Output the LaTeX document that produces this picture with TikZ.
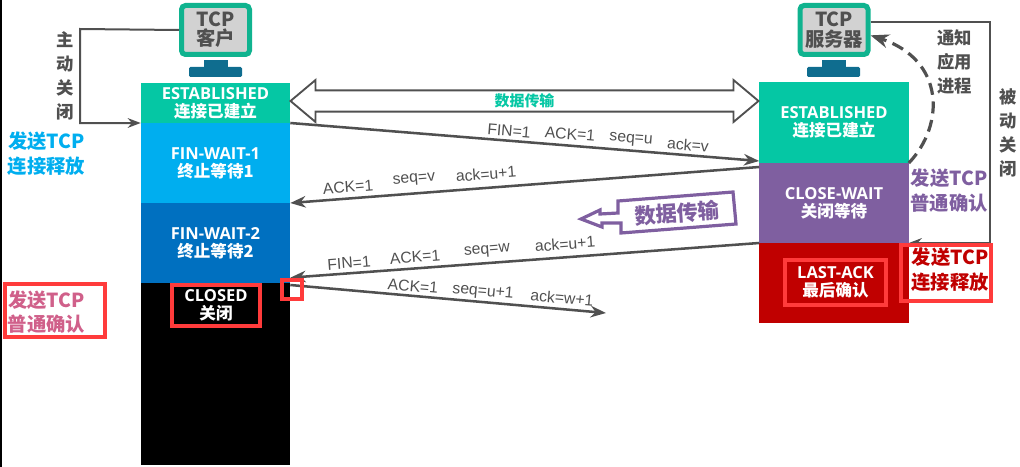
\documentclass[tikz,border=0pt]{standalone}
\usepackage{fontspec}
\usepackage{xcolor}
\usetikzlibrary{arrows.meta,shapes.arrows}
\setmainfont{Open Sans}
\newfontfamily\cn{Noto Sans CJK SC}
\newfontfamily\lab{Liberation Sans}
\definecolor{grayline}{HTML}{505050}
\definecolor{estcol}{HTML}{05C7A4}
\definecolor{waitone}{HTML}{00AEEF}
\definecolor{waittwo}{HTML}{0070C0}
\definecolor{closecol}{HTML}{7F5FA0}
\definecolor{lastcol}{HTML}{C00000}
\definecolor{boxred}{HTML}{FF3B3B}
\definecolor{pinkcol}{HTML}{D0608A}
\definecolor{framecol}{HTML}{10B38F}
\definecolor{standcol}{HTML}{0F6D8F}
\tikzset{
    >=Stealth,
    statefont/.style={font=\bfseries\fontsize{12.4}{13.5}\selectfont},
    statebox/.style={fill=#1,text=white,minimum width=112.2pt,inner sep=0pt,outer sep=0pt,align=center,statefont},
    screen/.style={draw=framecol,fill=gray!35,line width=3.75pt,rounded corners=3pt,minimum width=51pt,minimum height=36.75pt,inner sep=0pt,align=center,text=grayline,font=\cn\bfseries\fontsize{14.5}{14.5}\selectfont},
    msgline/.style={->,draw=grayline,line width=1.9pt},
    sideline/.style={draw=grayline,line width=1.5pt},
    msg/.style={text=grayline,inner sep=0pt,font=\lab\fontsize{11.8}{13}\selectfont},
    note/.style={inner sep=0pt,align=center,font=\cn\bfseries\fontsize{14.5}{18.5}\selectfont},
    vertnote/.style={text=grayline,inner sep=0pt,align=center,font=\cn\bfseries\fontsize{13}{18}\selectfont},
    redbox/.style={draw=boxred,line width=2.3pt,inner sep=0pt}
}
\begin{document}
\begin{tikzpicture}[x=0.75pt,y=-0.75pt]
    \useasboundingbox (0,0) rectangle (1020,467);
    \fill[black] (0,0) rectangle (1.5,467);

    % client side
    \node[screen] (cli) at (215.5,30) {TCP\\客户};
    \fill[standcol] (204,60) rectangle (228,68);
    \fill[standcol,rounded corners=1pt] (189,67) rectangle (242,77);
    \node[statebox=estcol,minimum height=30pt] (est1) at (215.5,103) {ESTABLISHED\\{\cn 连接已建立}};
    \node[statebox=waitone,minimum height=60pt] (fin1) at (215.5,163) {FIN-WAIT-1\\{\cn 终止等待1}};
    \node[statebox=waittwo,minimum height=60pt] (fin2) at (215.5,243) {FIN-WAIT-2\\{\cn 终止等待2}};
    \node[statebox=black,minimum height=136.5pt] (closed) at (215.5,374) {};
    \node[redbox,text=white,minimum width=66pt,minimum height=30.75pt,align=center,statefont] (closedtxt) at (216,305.5) {CLOSED\\{\cn 关闭}};

    % server side
    \node[screen] (srv) at (834,30) {TCP\\服务器};
    \fill[standcol] (822,60) rectangle (846,68);
    \fill[standcol,rounded corners=1pt] (807,67) rectangle (860,77);
    \node[statebox=estcol,minimum height=60.75pt] (est2) at (834,122.5) {ESTABLISHED\\{\cn 连接已建立}};
    \node[statebox=closecol,minimum height=60pt] (cw) at (834,203) {CLOSE-WAIT\\{\cn 关闭等待}};
    \node[statebox=lastcol,minimum height=60pt] (la) at (834,283) {};
    \node[redbox,text=white,minimum width=75.75pt,minimum height=33.75pt,align=center,statefont] (latxt) at (835.5,282.5) {LAST-ACK\\{\cn 最后确认}};

    % close and notify lines
    \coordinate (cliturn) at (80,29);
    \coordinate (srvturn) at (990,22);
    \draw[sideline,->] (cli.west) -- (cliturn) |- (est1.south west);
    \draw[sideline,->] ([yshift=6pt]srv.east) -- (srvturn) |- (cw.south east);
    \draw[->,draw=grayline,line width=2.4pt,dash pattern=on 9pt off 5pt] (cw.north east) .. controls (945,125) and (945,60) .. ([yshift=-4pt]srv.east);

    % data transfer
    \node[double arrow,draw=grayline,fill=white,line width=1.4pt,minimum height=351pt,minimum width=31.5pt,double arrow head extend=6pt,double arrow tip angle=80,inner sep=0pt,outer sep=0pt,text=estcol,font=\cn\bfseries\fontsize{11.2}{12}\selectfont] (data) at (524.5,101) {数据传输};

    % messages
    \draw[msgline] (est1.south east) -- ([yshift=1.5pt]cw.north west);
    \draw[msgline] ([yshift=-3pt]cw.north west) -- (fin2.north east);
    \draw[msgline] (la.north west) -- ([yshift=4pt]closed.north east);
    \coordinate (lost) at (606,313);
    \draw[msgline] ([yshift=-1.5pt]closed.north east) -- (lost);

    \node[msg,rotate=-4.6] (m1a) at (509,131) {FIN=1};
    \node[msg,rotate=-4.6] (m1b) at (570,134) {ACK=1};
    \node[msg,rotate=-4.6] (m1c) at (631,140) {seq=u};
    \node[msg,rotate=-4.6] (m1d) at (688,145) {ack=v};
    \node[msg,rotate=4.5] (m2a) at (348,187) {ACK=1};
    \node[msg,rotate=4.5] (m2b) at (414,180) {seq=v};
    \node[msg,rotate=4.5] (m2c) at (486,174) {ack=u+1};
    \node[msg,rotate=4.4] (m3a) at (349,263) {FIN=1};
    \node[msg,rotate=4.4] (m3b) at (415,257) {ACK=1};
    \node[msg,rotate=4.4] (m3c) at (487,251) {seq=w};
    \node[msg,rotate=4.4] (m3d) at (565,244) {ack=u+1};
    \node[msg,rotate=-5] (m4a) at (413,286) {ACK=1};
    \node[msg,rotate=-5] (m4b) at (483,292) {seq=u+1};
    \node[msg,rotate=-5] (m4c) at (562,298) {ack=w+1};

    % purple callout
    \draw[draw=closecol,fill=white,line width=2.4pt] (618,201) -- (733,192) -- (736,224) -- (621,233) -- (621,223) -- (602,223) -- (602,227) -- (581,219) -- (600,210) -- (600,214) -- (618,213) -- cycle;
    \node[rotate=4,text=closecol,inner sep=0pt,font=\cn\bfseries\fontsize{16}{17}\selectfont] (back) at (677,213) {数据传输};

    % side notes
    \node[vertnote] (activenote) at (65.5,76) {主\\动\\关\\闭};
    \node[vertnote] (appnote) at (954.5,62) {通知\\应用\\进程};
    \node[vertnote] (passivenote) at (1008,133) {被\\动\\关\\闭};
    \node[note,text=waitone] (sendfin) at (46.5,154) {发送TCP\\连接释放};
    \node[note,text=pinkcol] (sendack) at (46.5,312) {发送TCP\\普通确认};
    \node[note,text=closecol] (cwnote) at (949,190.5) {发送TCP\\普通确认};
    \node[note,text=lastcol] (lanote) at (950,270) {发送TCP\\连接释放};

    % highlight boxes
    \node[redbox,minimum width=75pt,minimum height=39.75pt] (sendackbox) at (55,310.5) {};
    \node[redbox,minimum width=67.5pt,minimum height=42pt] (lanotebox) at (946,273) {};
    \node[redbox,minimum width=15pt,minimum height=14.25pt] (cornerbox) at (292,289.5) {};
\end{tikzpicture}
\end{document}
